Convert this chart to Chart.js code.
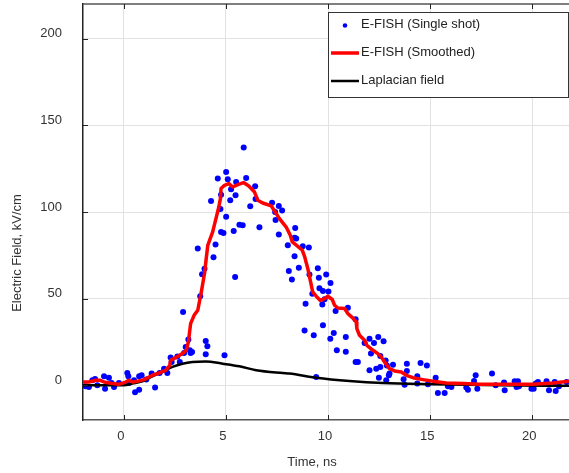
<!DOCTYPE html>
<html>
<head>
<meta charset="utf-8">
<script src="https://cdn.jsdelivr.net/npm/chart.js@4/dist/chart.umd.min.js"></script>
<style>
  html, body { margin: 0; padding: 0; background: #fff; }
  canvas { display: block; }
</style>
</head>
<body>
<canvas id="efield" width="569" height="473"></canvas>
<script>
// E-FISH single shot measurements (time in ns, field in kV/cm)
var shotTime = [-1.87, -1.71, -1.54, -1.41, -1.30, -0.97, -0.92, -0.73, -0.60, -0.48, -0.24,
    0.17, 0.22, 0.25, 0.50, 0.55, 0.75, 0.75, 0.87, 1.10, 1.36, 1.53, 1.75, 1.97, 2.13, 2.29,
    2.34, 2.62, 2.74, 2.90, 2.95, 3.16, 3.03, 3.23, 3.27, 4.01, 4.09, 4.01, 3.95, 3.83, 3.74,
    3.34, 4.93, 5.45, 8.08, 5.87, 5.01, 4.60, 5.09, 5.50, 5.99, 6.43, 5.25, 4.76, 5.47, 5.21,
    4.27, 6.19, 4.73, 5.01, 5.66, 5.82, 6.64, 4.76, 4.88, 5.38, 3.62, 4.49, 4.39, 7.26, 7.59,
    7.75, 7.43, 7.59, 8.03, 6.45, 7.41, 8.39, 8.36, 8.44, 8.76, 9.06, 8.36, 8.57, 8.23, 9.50,
    9.55, 9.91, 9.09, 10.12, 9.58, 9.75, 10.02, 9.23, 9.83, 9.72, 8.90, 10.37, 10.97, 11.35,
    9.75, 8.85, 9.30, 10.28, 10.11, 10.87, 10.43, 10.87, 11.35, 11.46, 11.79, 12.03, 12.25,
    12.46, 12.72, 12.10, 12.56, 12.82, 12.03, 12.36, 12.56, 12.49, 12.88, 9.42, 12.85, 12.98,
    13.18, 13.01, 13.86, 13.86, 13.70, 13.75, 14.37, 14.37, 14.53, 14.84, 14.89, 15.27, 15.38,
    15.71, 15.87, 16.04, 16.77, 16.85, 17.15, 17.23, 17.31, 18.03, 18.21, 18.62, 18.65, 19.14,
    19.30, 19.23, 19.35, 19.96, 20.07, 20.17, 20.28, 20.70, 20.82, 21.10, 21.15, 21.31, 21.68];
var shotField = [-0.6, -1.0, 2.9, 3.6, 0.0, 5.2, -1.9, 4.4, 1.3, -1.0, 1.3,
    7.1, 5.2, 1.3, 2.9, -4.0, -2.5, 5.2, 5.8, 3.3, 6.8, -1.3, 7.1, 9.6, 7.1, 16.0,
    13.4, 16.7, 13.4, 42.3, 18.6, 26.4, 22.1, 20.2, 18.6, 25.6, 22.5, 17.9, 67.3, 64.1, 51.4,
    19.2, 17.3, 62.5, 66.0, 137.2, 123.1, 119.3, 118.9, 117.3, 119.6, 114.8, 113.1, 110.0, 109.6, 106.8,
    106.3, 103.3, 101.7, 97.3, 92.7, 92.3, 91.2, 88.5, 87.9, 89.0, 78.9, 81.2, 73.9, 105.4, 103.5,
    100.8, 95.4, 87.0, 80.8, 107.5, 100.0, 90.8, 85.2, 84.7, 80.2, 79.5, 74.4, 67.9, 61.0, 67.5,
    62.1, 63.9, 63.9, 59.0, 56.0, 54.4, 54.2, 52.9, 49.6, 46.6, 47.1, 42.9, 44.8, 38.1,
    34.6, 31.7, 28.9, 30.2, 26.9, 27.9, 20.2, 19.4, 13.4, 13.4, 24.4, 26.9, 24.4,
    27.9, 25.4, 18.3, 16.9, 14.3, 8.7, 9.6, 10.6, 4.4, 11.5, 4.8, 2.9, 5.8,
    11.9, 6.8, 12.5, 8.3, 3.5, 0.4, 5.2, 1.0, 12.9, 11.5, 0.6, 4.4, -4.4,
    -4.4, -0.6, -1.0, -1.3, -2.5, 2.5, 5.8, -1.9, 6.8, 0.0, 1.7, -2.9, 2.3,
    2.3, -1.0, -0.6, -1.9, -1.9, 1.0, 1.9, 2.3, -2.9, 1.9, -3.3, -0.6, 1.9];

// E-FISH smoothed curve
var smoothTime = [-2.0, -1.71, -1.38, -1.15, -0.97, -0.56, -0.24, 0.09, 0.25, 0.42, 0.66, 0.99,
    1.40, 1.73, 2.05, 2.25, 2.29, 2.54, 2.87, 3.06, 3.16, 3.27, 3.44, 3.62, 3.78, 3.95, 4.11,
    4.35, 4.55, 4.65, 4.73, 4.76, 4.93, 5.14, 5.33, 5.58, 5.86, 6.12, 6.40, 6.56, 6.80, 7.22,
    7.43, 7.62, 7.95, 8.15, 8.25, 8.52, 8.74, 8.85, 9.01, 9.13, 9.25, 9.42, 9.62, 9.83, 9.99,
    10.21, 10.32, 10.48, 10.81, 10.97, 11.22, 11.38, 11.41, 11.54, 11.79, 11.90, 12.20, 12.44,
    12.61, 12.77, 13.01, 13.26, 13.59, 13.83, 14.16, 14.65, 15.14, 15.79, 16.61, 17.43, 19.06,
    20.04, 21.02, 21.8];
var smoothField = [1.9, 1.9, 2.9, 2.9, 1.9, 1.0, 0.6, 1.9, 2.9, 1.9, 2.3, 3.3,
    5.8, 7.1, 8.7, 11.5, 14.4, 16.0, 18.3, 20.2, 25.0, 35.6, 40.4, 43.3, 52.9, 64.5, 80.8,
    88.5, 98.1, 102.9, 107.7, 113.5, 115.4, 116.4, 114.4, 115.8, 117.0, 115.0, 111.5, 106.8, 105.2, 103.5,
    99.7, 96.2, 91.3, 86.6, 82.7, 80.2, 77.9, 74.4, 67.3, 60.6, 53.8, 51.4, 49.0, 50.0, 51.4,
    49.5, 46.2, 44.6, 44.3, 41.4, 38.8, 36.5, 32.7, 28.9, 26.0, 23.1, 20.2, 18.3,
    16.3, 13.4, 9.6, 8.3, 7.7, 5.8, 4.4, 3.3, 2.3, 1.3, 1.0, 0.6, 0.6,
    0.6, 1.3, 2.3];

// Laplacian field
var laplaceTime = [-2.0, 0.0, 0.42, 0.91, 1.40, 1.89, 2.38, 2.87, 3.36, 4.01, 4.84, 5.66, 6.48,
    7.78, 8.11, 9.42, 11.05, 12.69, 15.14, 18.4, 21.8];
var laplaceField = [0.0, 0.0, 1.0, 2.3, 5.2, 7.7, 10.6, 12.5, 13.5, 13.8, 12.5, 11.0, 8.7,
    7.1, 6.8, 4.4, 2.5, 1.3, 0.6, 0.0, -0.3];

var seriesNames = ['E-FISH (Single shot)', 'E-FISH (Smoothed)', 'Laplacian field'];
var xTickValues = [0, 5, 10, 15, 20];
var yTickValues = [0, 50, 100, 150, 200];
var xTitle = 'Time, ns';
var yTitle = 'Electric Field, kV/cm';

function toPoints(xs, ys) {
    return xs.map(function(x, i) { return { x: x, y: ys[i] }; });
}

var FONT = '"Liberation Sans", Arial, sans-serif';
var TEXT = '#333333';

function noPadding(scale) {
    scale.paddingTop = 0;
    scale.paddingBottom = 0;
    scale.paddingLeft = 0;
    scale.paddingRight = 0;
}

// frame, inward tick marks, axis titles and the boxed legend
var framePlugin = {
    id: 'frame',
    afterDatasetsDraw: function(chart) {
        var ctx = chart.ctx;
        var a = chart.chartArea;
        var xs = chart.scales.x, ys = chart.scales.y;
        ctx.save();
        ctx.strokeStyle = '#555';
        ctx.lineWidth = 1.5;
        ctx.beginPath();
        ctx.moveTo(a.left, a.top);
        ctx.lineTo(a.right, a.top);
        ctx.stroke();

        ctx.strokeStyle = '#222';
        ctx.lineWidth = 1;
        ctx.beginPath();
        xTickValues.forEach(function(v) {
            var px = Math.round(xs.getPixelForValue(v)) + 0.5;
            ctx.moveTo(px, a.bottom);
            ctx.lineTo(px, a.bottom - 5);
            ctx.moveTo(px, a.top);
            ctx.lineTo(px, a.top + 5);
        });
        yTickValues.forEach(function(v) {
            var py = Math.round(ys.getPixelForValue(v)) + 0.5;
            ctx.moveTo(a.left, py);
            ctx.lineTo(a.left + 5, py);
        });
        ctx.stroke();

        ctx.fillStyle = TEXT;
        ctx.font = '13px ' + FONT;
        ctx.textAlign = 'center';
        ctx.textBaseline = 'middle';
        ctx.fillText(xTitle, 312, 462);
        ctx.translate(17, 253);
        ctx.rotate(-Math.PI / 2);
        ctx.fillText(yTitle, 0, 0);
        ctx.restore();

        // legend
        ctx.save();
        var bx = 328.5, by = 12.5, bw = 240, bh = 85;
        ctx.fillStyle = '#fff';
        ctx.fillRect(bx, by, bw, bh);
        ctx.strokeStyle = '#333';
        ctx.lineWidth = 1;
        ctx.strokeRect(bx, by, bw, bh);
        var rows = [24, 52, 80];
        chart.data.datasets.forEach(function(ds) {
            var idx = seriesNames.indexOf(ds.label);
            var ry = rows[idx];
            if (ds.showLine) {
                ctx.strokeStyle = ds.borderColor;
                ctx.lineWidth = ds.borderWidth;
                ctx.beginPath();
                ctx.moveTo(331, ry + 1);
                ctx.lineTo(359, ry + 1);
                ctx.stroke();
            } else {
                ctx.fillStyle = ds.backgroundColor;
                ctx.beginPath();
                ctx.arc(345, ry + 1.5, 2.3, 0, Math.PI * 2);
                ctx.fill();
            }
            ctx.fillStyle = '#222';
            ctx.font = '13px ' + FONT;
            ctx.textAlign = 'left';
            ctx.textBaseline = 'middle';
            ctx.fillText(ds.label, 361, ry);
        });
        ctx.restore();
    }
};

var chart = new Chart(document.getElementById('efield').getContext('2d'), {
    type: 'scatter',
    data: {
        datasets: [{
            label: seriesNames[1],
            data: toPoints(smoothTime, smoothField),
            showLine: true,
            borderColor: '#ff0000',
            borderWidth: 3.5,
            pointRadius: 0,
            tension: 0,
            borderJoinStyle: 'round'
        }, {
            label: seriesNames[2],
            data: toPoints(laplaceTime, laplaceField),
            showLine: true,
            borderColor: '#000000',
            borderWidth: 2.5,
            pointRadius: 0,
            cubicInterpolationMode: 'monotone'
        }, {
            label: seriesNames[0],
            data: toPoints(shotTime, shotField),
            showLine: false,
            backgroundColor: '#0000ff',
            borderWidth: 0,
            pointRadius: 3
        }]
    },
    options: {
        responsive: false,
        animation: false,
        devicePixelRatio: 1,
        layout: { autoPadding: false, padding: { top: 4, left: 0, right: 0, bottom: 0 } },
        plugins: {
            legend: { display: false },
            tooltip: { enabled: false }
        },
        scales: {
            x: {
                type: 'linear',
                min: -2,
                max: 21.8,
                afterBuildTicks: function(scale) {
                    scale.ticks = xTickValues.map(function(v) { return { value: v }; });
                },
                afterFit: function(scale) {
                    scale.height = 53;
                    noPadding(scale);
                },
                grid: { color: '#e2e2e2', lineWidth: 1, drawTicks: false },
                border: { display: true, color: '#555', width: 1.5 },
                ticks: {
                    color: TEXT,
                    font: { family: FONT, size: 13 },
                    padding: 9,
                    labelOffset: -3,
                    maxRotation: 0
                }
            },
            y: {
                type: 'linear',
                min: -20,
                max: 220,
                afterBuildTicks: function(scale) {
                    scale.ticks = yTickValues.map(function(v) { return { value: v }; });
                },
                afterFit: function(scale) {
                    scale.width = 83;
                    noPadding(scale);
                },
                grid: { color: '#e2e2e2', lineWidth: 1, drawTicks: false },
                border: { display: true, color: '#222', width: 1.5 },
                ticks: {
                    color: TEXT,
                    font: { family: FONT, size: 13 },
                    padding: 21,
                    labelOffset: -5
                }
            }
        }
    },
    plugins: [framePlugin]
});
</script>
</body>
</html>
